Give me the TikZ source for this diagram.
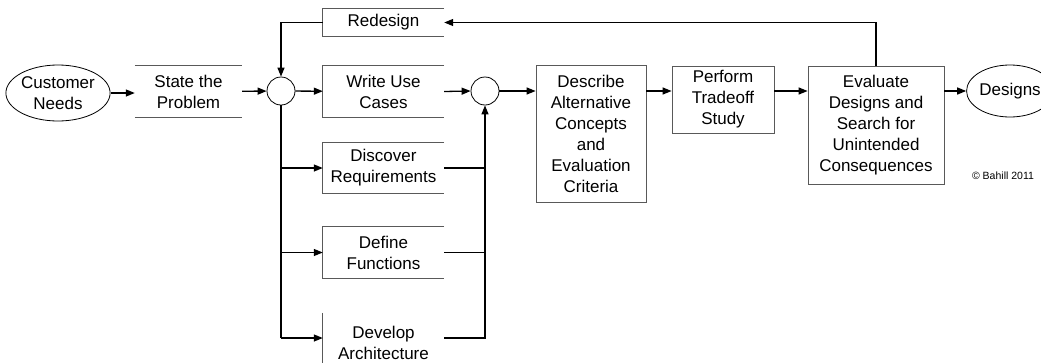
\documentclass[tikz,border=0pt]{standalone}
\usepackage{fontspec}
\setmainfont{Liberation Sans}
\usetikzlibrary{arrows.meta,shapes.geometric}
\tikzset{
  block/.style={minimum width=#1, inner sep=1pt, align=center,
    font=\fontsize{17}{21}\selectfont},
  frame/.style={draw=black!65, line width=0.8pt},
  term/.style={ellipse, draw, line width=0.8pt, inner sep=0pt, align=center,
    font=\fontsize{17}{21}\selectfont},
  junction/.style={circle, draw, line width=0.8pt, minimum size=28pt, inner sep=0pt},
  flow/.style={line width=1.3pt, -{Triangle[length=9pt,width=7pt]}},
  trunk/.style={line width=1.3pt},
}

\begin{document}
\begin{tikzpicture}[x=1pt, y=-1pt]
\useasboundingbox (0,0) rectangle (1041,362);
\clip (0,0) rectangle (1041,362);

% inputs and the first junction
\node[term, minimum width=97pt, minimum height=56pt] (needs) at (58,93) {Customer\\Needs};
\node[block=107pt, minimum height=51pt] (state) at (188.5,91.5) {State the\\Problem};
\node[junction] (sumA) at (281,91) {};

% parallel activities
\node[block=121pt, minimum height=27pt] (redesign) at (383.5,22.5) {Redesign};
\node[block=121pt, minimum height=51pt] (usecase) at (383.5,91.5) {Write Use\\Cases};
\node[block=121pt, minimum height=50pt] (reqs) at (383.5,168) {Discover\\Requirements};
\node[block=121pt, minimum height=51pt] (funcs) at (383.5,252.5) {Define\\Functions};
\node[block=121pt, minimum height=60pt] (arch) at (383.5,343) {Develop\\Architecture};
\node[junction] (sumB) at (485,91) {};

% the main line
\node[block=110pt, minimum height=137pt, frame] (describe) at (591,133.5) {Describe\\Alternative\\Concepts\\and\\Evaluation\\Criteria};
\node[block=102pt, minimum height=67pt, frame] (tradeoff) at (723,99.5) {Perform\\Tradeoff\\Study};
\node[block=136pt, minimum height=118pt, frame] (evaluate) at (876,125) {Evaluate\\Designs and\\Search for\\Unintended\\Consequences};
\node[term, minimum width=80pt, minimum height=52pt] (designs) at (1010,91) {Designs};
\node[font=\fontsize{10.5}{12}\selectfont] (credit) at (1003,176) {© Bahill 2011};

% open box outlines
\draw[frame] (state.north west) -- (state.north east);
\draw[frame] (state.south west) -- (state.south east);
\draw[frame] (redesign.north east) -- (redesign.north west) -- (redesign.south west) -- (redesign.south east);
\draw[frame] (usecase.north east) -- (usecase.north west) -- (usecase.south west) -- (usecase.south east);
\draw[frame] (reqs.north east) -- (reqs.north west) -- (reqs.south west) -- (reqs.south east);
\draw[frame] (funcs.north east) -- (funcs.north west) -- (funcs.south west) -- (funcs.south east);
\draw[frame] (arch.north west) -- (arch.south west);

% connectors
\draw[flow] (needs) -- (state.west |- needs);
\draw[flow] (state) -- (sumA);
\draw[flow] (sumA) -- (usecase);
\draw[flow] (redesign.west) -| (sumA.north);
\draw[trunk] (sumA.south) -- ([yshift=5pt]sumA.south |- arch.west);
\draw[flow] (sumA.south |- reqs.west) -- (reqs.west);
\draw[flow] (sumA.south |- funcs.west) -- (funcs.west);
\draw[flow] ([yshift=5pt]sumA.south |- arch.west) -- ([yshift=5pt]arch.west);
\draw[flow] (usecase.east) -- (sumB.west);
\draw[trunk] (reqs.east) -- (sumB.south |- reqs.east);
\draw[trunk] (funcs.east) -- (sumB.south |- funcs.east);
\draw[flow] ([yshift=5pt]arch.east) -| (sumB.south);
\draw[flow] (sumB.east) -- (sumB.east -| describe.west);
\draw[flow] (describe.east |- sumB) -- (tradeoff.west |- sumB);
\draw[flow] (tradeoff.east |- sumB) -- (evaluate.west |- sumB);
\draw[flow] (evaluate.east |- designs) -- (designs.west);
\draw[flow] (evaluate.north) |- (redesign.east);
\end{tikzpicture}
\end{document}
